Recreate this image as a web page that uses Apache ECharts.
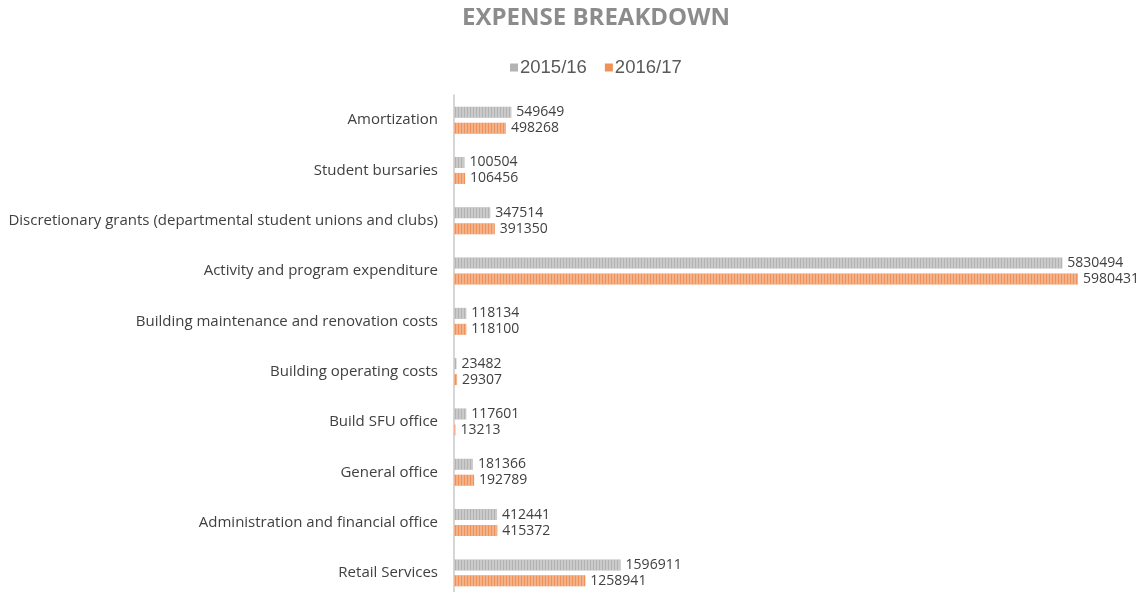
<!DOCTYPE html>
<html>
<head>
    <meta charset="utf-8" />
    <title>Expense breakdown</title>
    <script src="https://cdn.jsdelivr.net/npm/echarts@6/dist/echarts.min.js"></script>
</head>
<body style="margin:0">
<div id="main" style="width: 1143px;height:592px;"></div>
<script type="text/javascript">
    // categories top to bottom
    var categories = [
        'Amortization',
        'Student bursaries',
        'Discretionary grants (departmental student unions and clubs)',
        'Activity and program expenditure',
        'Building maintenance and renovation costs',
        'Building operating costs',
        'Build SFU office',
        'General office',
        'Administration and financial office',
        'Retail Services'
    ];
    var values1516 = [549649, 100504, 347514, 5830494, 118134, 23482, 117601, 181366, 412441, 1596911];
    var values1617 = [498268, 106456, 391350, 5980431, 118100, 29307, 13213, 192789, 415372, 1258941];

    var myChart = echarts.init(document.getElementById('main'));

    // vertical stripe texture like the original bars (per item so the legend stays plain)
    var stripes = {
        symbol: 'rect',
        symbolSize: 1,
        dashArrayX: [2, 1],
        dashArrayY: [4, 0],
        color: 'rgba(255,255,255,0.3)'
    };
    function striped(arr) {
        return arr.map(function (v) {
            return { value: v, itemStyle: { decal: stripes } };
        });
    }

    var valueLabel = {
        show: true,
        position: 'right',
        distance: 5,
        fontFamily: 'Open Sans',
        fontSize: 14,
        color: '#404040'
    };

    var option = {
        title: {
            text: 'EXPENSE BREAKDOWN',
            left: 591,
            top: 1,
            textAlign: 'center',
            textStyle: {
                fontFamily: 'Open Sans',
                fontSize: 24,
                fontWeight: 'bold',
                color: '#8c8c8c'
            }
        },
        legend: {
            top: 53,
            left: 505,
            icon: 'rect',
            itemWidth: 8,
            itemHeight: 8,
            itemGap: 18,
            textStyle: {
                fontFamily: 'Liberation Sans',
                fontSize: 18.5,
                color: '#595959',
                padding: [0, 0, 0, -3]
            },
            data: ['2015/16', '2016/17']
        },
        grid: {
            left: 454,
            right: 63,
            top: 95,
            height: 503,
            outerBoundsMode: 'none'
        },
        xAxis: {
            type: 'value',
            min: 0,
            max: 6000000,
            show: false
        },
        yAxis: {
            type: 'category',
            inverse: true,
            data: categories,
            axisLine: { show: true, lineStyle: { color: '#c8c8c8', width: 1.5 } },
            axisTick: { show: false },
            axisLabel: {
                fontFamily: 'Open Sans',
                fontSize: 15,
                color: '#404040',
                margin: 16
            }
        },
        series: [
            {
                name: '2015/16',
                type: 'bar',
                data: striped(values1516),
                barWidth: 11,
                barGap: '45%',
                itemStyle: { color: '#b3b3b3' },
                label: valueLabel
            },
            {
                name: '2016/17',
                type: 'bar',
                data: striped(values1617),
                barWidth: 11,
                itemStyle: { color: '#ef9159' },
                label: valueLabel
            }
        ]
    };
    myChart.setOption(option);
</script>
</body>
</html>
